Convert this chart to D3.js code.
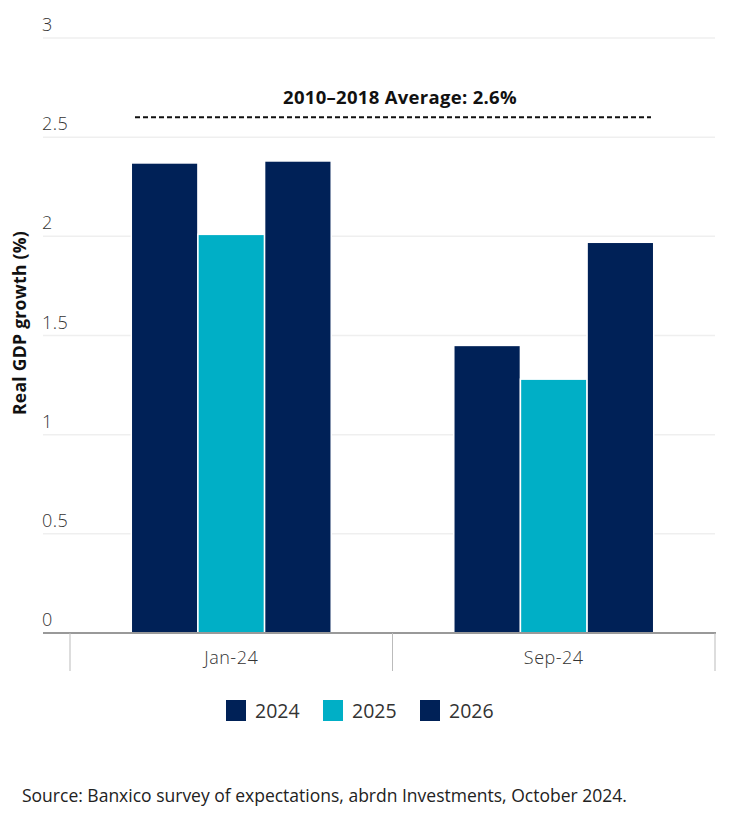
<!DOCTYPE html>
<html>
<head>
<meta charset="utf-8">
<script src="https://cdn.jsdelivr.net/npm/d3@7"></script>
<style>
  body { margin: 0; background: #fff; }
  text { font-family: "Open Sans", Lato, sans-serif; }
</style>
</head>
<body>
<div id="chart"></div>
<script>
// Data
var categories = ["Jan-24", "Sep-24"];
var years = ["2024", "2025", "2026"];
var values2024 = [2.37, 1.45];
var values2025 = [2.01, 1.28];
var values2026 = [2.38, 1.97];
var yTicks = [0, 0.5, 1, 1.5, 2, 2.5, 3];
var averageValue = 2.6;
var averageLabel = "2010\u20132018 Average: 2.6%";
var sourceText = "Source: Banxico survey of expectations, abrdn Investments, October 2024.";

var colors = { "2024": "#002157", "2025": "#00AFC6", "2026": "#002157" };

// build rows for plotting
var seriesValues = { "2024": values2024, "2025": values2025, "2026": values2026 };
var rows = categories.map(function(c, i) {
    return { cat: c, vals: years.map(function(y) { return { year: y, value: seriesValues[y][i] }; }) };
});

var svgWidth = 736, svgHeight = 813;

var svg = d3.select("#chart")
    .append("svg")
    .attr("width", svgWidth)
    .attr("height", svgHeight);

// scales
var x0 = d3.scaleBand().domain(categories).range([70, 715]);
var x1 = d3.scaleBand().domain(years)
    .range([x0.bandwidth() * 0.19, x0.bandwidth() * 0.81]);
var y = d3.scaleLinear().domain([0, 3]).range([633, 38]);

// gridlines + tick labels
var grid = svg.append("g");
grid.selectAll("line")
    .data(yTicks.filter(function(d) { return d > 0; }))
    .enter().append("line")
    .attr("x1", 43).attr("x2", 715)
    .attr("y1", d => y(d)).attr("y2", d => y(d))
    .attr("stroke", "#efefef")
    .attr("stroke-width", 1.5);

grid.selectAll("text")
    .data(yTicks)
    .enter().append("text")
    .attr("x", 42)
    .attr("y", d => y(d) - 7)
    .attr("font-size", 18)
    .attr("font-weight", 300)
    .attr("letter-spacing", 0.5)
    .attr("fill", "#333")
    .text(d => d);

// bars
var groups = svg.selectAll(".grp")
    .data(rows)
    .enter().append("g")
    .attr("class", "grp")
    .attr("transform", d => `translate(${x0(d.cat)},0)`);

groups.selectAll("rect")
    .data(d => d.vals)
    .enter().append("rect")
    .attr("x", d => x1(d.year))
    .attr("width", x1.bandwidth())
    .attr("y", d => y(d.value))
    .attr("height", d => y(0) - y(d.value))
    .attr("fill", d => colors[d.year])
    .attr("stroke", "#fff")
    .attr("stroke-width", 1.5);

// x axis
svg.append("line")
    .attr("x1", 43).attr("x2", 716)
    .attr("y1", y(0)).attr("y2", y(0))
    .attr("stroke", "#999")
    .attr("stroke-width", 2);

var tickXs = [x0(categories[0]), x0(categories[1]), x0(categories[1]) + x0.bandwidth()];
svg.selectAll(".xtick")
    .data(tickXs)
    .enter().append("line")
    .attr("class", "xtick")
    .attr("x1", d => d).attr("x2", d => d)
    .attr("y1", y(0)).attr("y2", 671)
    .attr("stroke", "#bbb")
    .attr("stroke-width", 1);

svg.selectAll(".xlab")
    .data(categories)
    .enter().append("text")
    .attr("class", "xlab")
    .attr("x", d => x0(d) + x0.bandwidth() / 2)
    .attr("y", 664)
    .attr("text-anchor", "middle")
    .attr("font-size", 18)
    .attr("font-weight", 300)
    .attr("letter-spacing", 0.5)
    .attr("fill", "#333")
    .text(d => d);

// average line
svg.append("line")
    .attr("x1", 135).attr("x2", 651)
    .attr("y1", y(averageValue)).attr("y2", y(averageValue))
    .attr("stroke", "#111")
    .attr("stroke-width", 2)
    .attr("stroke-dasharray", "5,3");

svg.append("text")
    .attr("x", 400)
    .attr("y", 104)
    .attr("text-anchor", "middle")
    .attr("font-size", 18.5)
    .attr("font-weight", "bold")
    .attr("letter-spacing", 0.3)
    .attr("fill", "#111")
    .text(averageLabel);

// y axis title
svg.append("text")
    .attr("transform", "translate(26,323) rotate(-90)")
    .attr("text-anchor", "middle")
    .attr("font-size", 17.5)
    .attr("font-weight", "bold")
    .attr("letter-spacing", 0.3)
    .attr("fill", "#111")
    .text("Real GDP growth (%)");

// legend
var legendX = [226, 323, 420];
var legend = svg.selectAll(".leg")
    .data(years)
    .enter().append("g")
    .attr("class", "leg")
    .attr("transform", (d, i) => `translate(${legendX[i]},700)`);

legend.append("rect")
    .attr("width", 20).attr("height", 21)
    .attr("fill", d => colors[d]);

legend.append("text")
    .attr("x", 29).attr("y", 18)
    .attr("font-size", 19.5)
    .attr("fill", "#333")
    .text(d => d);

// source
svg.append("text")
    .attr("x", 22)
    .attr("y", 802)
    .attr("font-size", 17.5)
    .attr("fill", "#222")
    .text(sourceText);
</script>
</body>
</html>
